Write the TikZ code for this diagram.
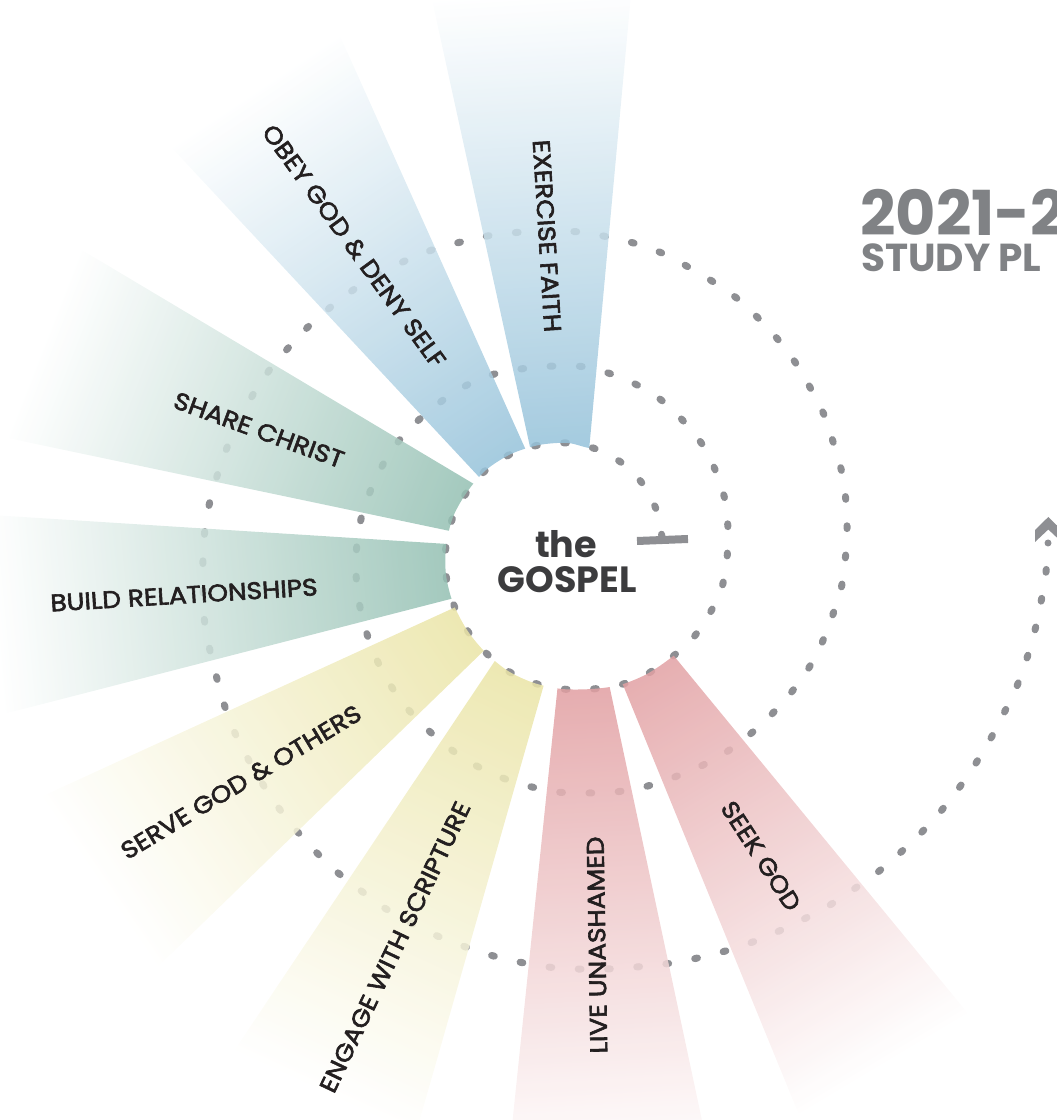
\documentclass[tikz,border=0pt]{standalone}
\usepackage{fontspec}
\setmainfont{Poppins}
\newfontfamily\labfont[FakeBold=2.5, FakeStretch=1.1]{Poppins}
\definecolor{dotgray}{HTML}{8E8F93}
\definecolor{rayblue}{HTML}{90BFD8}
\definecolor{raygreen}{HTML}{8FBDAF}
\definecolor{rayyellow}{HTML}{E9E3A2}
\definecolor{raypink}{HTML}{E09A9D}
\definecolor{labelink}{HTML}{231F20}
\definecolor{centerink}{HTML}{3C3C3E}
\definecolor{titlegray}{HTML}{808285}
% #1 axis angle, #2 lateral offset, #3 half width at r=124, #4 spread, #5 outer length, #6 colour
\newcommand\gospelray[6]{%
  \begin{scope}[transform canvas={shift={(567,553)},rotate=#1}]
    \shade[left color=#6, right color=white, middle color=#6!50!white, fill opacity=0.85]
      (100,{#2+#3+#4*(100-124)}) -- (#5,{#2+#3+#4*(#5-124)})
      -- (#5,{#2-#3-#4*(#5-124)}) -- (100,{#2-#3-#4*(100-124)}) -- cycle;
  \end{scope}}
\begin{document}
\begin{tikzpicture}[x=1pt,y=1pt,
  raylabel/.style={font=\labfont\fontsize{24}{24}\selectfont, text=labelink, inner sep=0pt},
  centerlabel/.style={font=\bfseries\fontsize{36.5}{36.5}\selectfont, text=centerink, inner sep=0pt},
  titlebig/.style={font=\bfseries\fontsize{62}{62}\selectfont, text=titlegray, inner sep=0pt, anchor=base west},
  titlesmall/.style={font=\bfseries\fontsize{39}{39}\selectfont, text=titlegray, inner sep=0pt, anchor=base west},
  flip/.style={shift={(0,1120)},yscale=-1},
  spiraldots/.style={draw=dotgray, line width=7pt, line cap=round, dash pattern=on 2.8pt off 26.5pt}]
\useasboundingbox (0,0) rectangle (1057,1120);
% ---------- dotted spiral ----------
\begin{scope}[flip]
\path[spiraldots] plot[smooth] coordinates {(662,537) (656,509) (642,483) (622,463) (596,449) (568,443) (539,445) (511,454) (486,470) (467,492) (453,517) (446,546) (446,575) (453,603) (467,630) (485,652) (508,671) (534,683) (562,689) (592,689) (620,685) (647,674) (672,657) (693,638) (710,613) (722,587) (727,558) (728,530) (725,500) (716,472) (704,447) (686,424) (665,403) (641,387) (614,375) (586,367) (557,366) (528,368) (498,373) (471,383) (446,398) (422,417) (402,437) (385,461) (372,487) (362,515) (357,543) (356,573) (359,602) (366,631) (376,658) (389,683) (407,708) (427,729) (449,748) (473,764) (500,777) (528,786) (557,792) (586,793) (615,792) (644,787) (672,778) (699,767) (725,753) (748,736) (770,716) (790,694) (807,671) (821,645) (832,617) (841,589) (845,562) (847,531) (846,502) (842,473) (834,445) (825,417) (812,391) (797,365) (780,342) (760,320) (739,300) (715,283) (690,268) (664,254) (637,244) (608,237) (580,232) (552,231) (523,232) (493,235) (465,241) (435,249) (407,260) (381,273) (356,288) (332,306) (310,325) (290,346) (271,368) (254,393) (240,418) (228,445) (218,473) (210,501) (205,529) (203,558) (203,587) (204,617) (209,646) (216,675) (224,704) (234,731) (247,757) (262,783) (278,807) (296,830) (316,852) (337,872) (360,890) (383,907) (409,922) (435,935) (463,946) (490,955) (519,962) (548,967) (577,969) (607,969) (636,967) (665,964) (693,959) (722,952) (750,943) (777,932) (804,919) (830,905) (854,889) (878,872) (900,853) (921,833) (941,811) (959,788) (976,763) (991,738) (1004,713) (1017,686) (1027,658) (1035,630) (1041,602) (1046,572) (1048,543)};
\end{scope}
% ---------- rays ----------
\begin{scope}[even odd rule]
\clip (-20,-20) rectangle (1080,1140)
  plot[smooth cycle] coordinates {(596,671) (568,677) (539,675) (511,666) (486,650) (467,628) (453,603) (446,574) (446,545) (453,517) (467,490) (485,468) (508,449) (534,437) (562,431) (592,431) (620,435) (647,446) (672,463) (693,482) (710,507) (722,533) (727,562) (728,590) (705,645) (655,670)};
\gospelray{93.55}{-0.4}{30.2}{0.155}{575}{rayblue}
\gospelray{123.6}{-3.8}{27.3}{0.166}{570}{rayblue}
\gospelray{158.65}{-17.6}{27.0}{0.167}{570}{raygreen}
\gospelray{185.4}{-6.8}{28.5}{0.159}{575}{raygreen}
\gospelray{214.35}{-3.9}{27.5}{0.172}{565}{rayyellow}
\gospelray{245.15}{1.2}{28.5}{0.157}{580}{rayyellow}
\gospelray{273.05}{10}{26.5}{0.158}{600}{raypink}
\gospelray{300.85}{16.8}{28.3}{0.151}{590}{raypink}
\end{scope}
% ---------- marks, labels ----------
\begin{scope}[flip]
\draw[dotgray, line width=8] (637,541) -- (688,539);
\fill[dotgray] (1035,530) -- (1048.3,517) -- (1061.6,530) -- (1061.6,542) -- (1048.3,529.5) -- (1035,542) -- cycle;
\node[raylabel, rotate=-86.5] (lblexercise) at (547,236) {EXERCISE FAITH};
\node[raylabel, rotate=-54] (lblobey) at (354,246) {OBEY GOD \& DENY SELF};
\node[raylabel, rotate=-20] (lblshare) at (259,430) {SHARE CHRIST};
\node[raylabel, rotate=3.5] (lblbuild) at (184,595) {BUILD RELATIONSHIPS};
\node[raylabel, rotate=31] (lblserve) at (241,782) {SERVE GOD \& OTHERS};
\node[raylabel, rotate=64.5] (lblengage) at (395,947) {ENGAGE WITH SCRIPTURE};
\node[raylabel, rotate=91] (lbllive) at (597,945) {LIVE UNASHAMED};
\node[raylabel, rotate=-57] (lblseek) at (761,856) {SEEK GOD};
\node[centerlabel, anchor=base] (the) at (566,558) {the};
\node[centerlabel, anchor=base] (gospel) at (567,593) {GOSPEL};
\node[titlebig] (year) at (860,236) {2021-2};
\node[titlesmall] (plan) at (861,272) {STUDY PL};
\end{scope}
\end{tikzpicture}
\end{document}
